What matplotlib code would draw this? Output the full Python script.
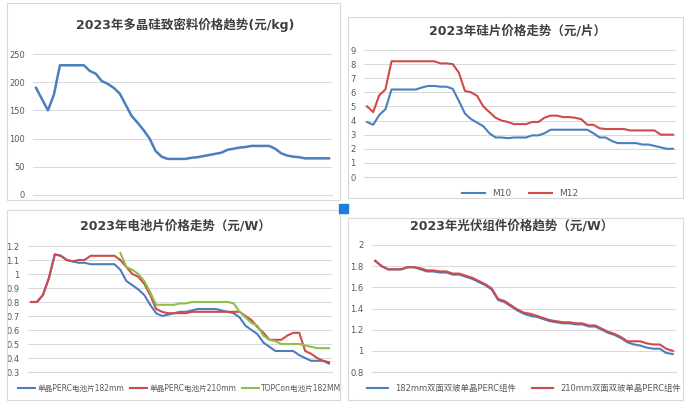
import numpy as np
import matplotlib.pyplot as plt
from matplotlib import font_manager
from matplotlib.patches import Rectangle

# 找一个能显示中文的无衬线字体
cjk = sorted(set(f.name for f in font_manager.fontManager.ttflist if 'CJK' in f.name))
sans = [n for n in cjk if 'Sans' in n]
cjk_name = 'Noto Sans CJK SC' if 'Noto Sans CJK SC' in sans else (sans[0] if sans else 'DejaVu Sans')
plt.rcParams['font.family'] = ['DejaVu Sans', cjk_name]

# ---- 数据 ----
poly_price = [190, 170, 150, 178, 230, 230, 230, 230, 230, 220, 215, 202, 197, 190, 180, 160, 140, 128, 115, 100,
              78, 68, 64, 64, 64, 64, 66, 67, 69, 71, 73, 75, 80, 82, 84, 85, 87, 87, 87, 87,
              82, 74, 70, 68, 67, 65, 65, 65, 65, 65]

wafer_m10 = [3.9, 3.7, 4.4, 4.8, 6.2, 6.2, 6.2, 6.2, 6.2, 6.35, 6.45, 6.45, 6.4, 6.4, 6.25,
             5.4, 4.5, 4.1, 3.85, 3.6, 3.1, 2.8, 2.8, 2.75, 2.8, 2.8, 2.8, 2.95, 2.95, 3.1,
             3.35, 3.35, 3.35, 3.35, 3.35, 3.35, 3.35, 3.1, 2.8, 2.8, 2.55, 2.4, 2.4, 2.4, 2.4,
             2.3, 2.3, 2.2, 2.1, 2.0, 2.0]
wafer_m12 = [5.0, 4.6, 5.8, 6.2, 8.2, 8.2, 8.2, 8.2, 8.2, 8.2, 8.2, 8.2, 8.05, 8.05, 8.0, 7.4,
             6.1, 6.0, 5.75, 5.0, 4.6, 4.2, 4.0, 3.9, 3.75, 3.75, 3.75, 3.9, 3.9, 4.2, 4.35, 4.35,
             4.25, 4.25, 4.2, 4.1, 3.7, 3.7, 3.45, 3.4, 3.4, 3.4, 3.4, 3.3, 3.3, 3.3, 3.3, 3.3,
             3.0, 3.0, 3.0]

cell_182 = [0.8, 0.8, 0.85, 0.97, 1.14, 1.13, 1.1, 1.09, 1.08, 1.08, 1.07, 1.07, 1.07, 1.07, 1.07,
            1.03, 0.95, 0.92, 0.89, 0.85, 0.78, 0.72, 0.70, 0.71, 0.72, 0.73, 0.73, 0.74, 0.75, 0.75,
            0.75, 0.75, 0.74, 0.73, 0.72, 0.69, 0.63, 0.60, 0.57, 0.51, 0.48, 0.45, 0.45, 0.45, 0.45,
            0.42, 0.40, 0.38, 0.38, 0.38, 0.36]
cell_210 = [0.8, 0.8, 0.85, 0.97, 1.14, 1.13, 1.1, 1.09, 1.1, 1.1, 1.13, 1.13, 1.13, 1.13, 1.13,
            1.10, 1.05, 1.0, 0.98, 0.93, 0.85, 0.75, 0.73, 0.72, 0.72, 0.72, 0.72, 0.73, 0.73, 0.73,
            0.73, 0.73, 0.73, 0.73, 0.73, 0.73, 0.70, 0.67, 0.62, 0.58, 0.53, 0.53, 0.53, 0.56, 0.58,
            0.58, 0.45, 0.43, 0.40, 0.38, 0.37]
topcon_start = 15
cell_topcon = [1.15, 1.05, 1.03, 1.0, 0.95, 0.87, 0.78, 0.78, 0.78, 0.78, 0.79, 0.79, 0.80, 0.80,
               0.80, 0.80, 0.80, 0.80, 0.80, 0.79, 0.73, 0.69, 0.65, 0.63, 0.56, 0.53, 0.52, 0.50,
               0.50, 0.50, 0.50, 0.49, 0.48, 0.47, 0.47, 0.47]

mod_182 = [1.85, 1.8, 1.77, 1.77, 1.77, 1.79, 1.79, 1.77, 1.75, 1.75, 1.74, 1.74, 1.72, 1.72, 1.70,
           1.68, 1.65, 1.62, 1.58, 1.48, 1.46, 1.42, 1.38, 1.35, 1.33, 1.32, 1.30, 1.28, 1.27, 1.26,
           1.26, 1.25, 1.25, 1.23, 1.23, 1.20, 1.17, 1.15, 1.12, 1.08, 1.06, 1.05, 1.03, 1.02, 1.02,
           0.98, 0.97]
mod_210 = [1.85, 1.8, 1.77, 1.77, 1.77, 1.79, 1.79, 1.78, 1.76, 1.76, 1.75, 1.75, 1.73, 1.73, 1.71,
           1.69, 1.66, 1.63, 1.59, 1.49, 1.47, 1.43, 1.39, 1.36, 1.35, 1.33, 1.31, 1.29, 1.28, 1.27,
           1.27, 1.26, 1.26, 1.24, 1.24, 1.21, 1.18, 1.16, 1.13, 1.09, 1.09, 1.09, 1.07, 1.06, 1.06,
           1.02, 1.0]

BLUE = '#4a7ebf'
RED = '#d04a4a'
GREEN = '#8dbf4a'
W, H = 688, 405

fig = plt.figure(figsize=(W / 100, H / 100), dpi=100)


def box(x0, y0, x1, y1):
    fig.patches.append(Rectangle((x0 / W, 1 - y1 / H), (x1 - x0) / W, (y1 - y0) / H,
                                 transform=fig.transFigure, fill=False, ec='#d9d9d9', lw=0.8))


def make_ax(x0, y0, x1, y1, ylim, yticks):
    ax = fig.add_axes([x0 / W, 1 - y1 / H, (x1 - x0) / W, (y1 - y0) / H])
    ax.set_ylim(*ylim)
    ax.set_yticks(yticks)
    ax.set_yticklabels(['%g' % v for v in yticks])
    ax.tick_params(axis='y', length=0, labelsize=6, labelcolor='#595959', pad=6)
    ax.set_xticks([])
    ax.grid(axis='y', color='#d9d9d9', lw=0.7)
    ax.set_axisbelow(True)
    for s in ax.spines.values():
        s.set_visible(False)
    ax.spines['bottom'].set_visible(True)
    ax.spines['bottom'].set_color('#d9d9d9')
    return ax


TITLE = dict(ha='center', va='center', fontsize=9, fontweight='bold', color='#404040')
LEG = dict(loc='center', bbox_to_anchor=(0.5, -0.13), frameon=False, labelcolor='#595959')

# 多晶硅
box(7, 3, 340, 200)
ax1 = make_ax(33, 54, 332, 195, (0, 250), [0, 50, 100, 150, 200, 250])
ax1.plot(range(len(poly_price)), poly_price, color=BLUE, lw=1.8)
ax1.set_xlim(-0.5, len(poly_price) - 0.5)
fig.text(185 / W, 1 - 25 / H, '2023年多晶硅致密料价格趋势(元/kg)', **TITLE)

# 硅片
box(348, 17, 683, 198)
ax2 = make_ax(364, 50, 676, 177, (0, 9), list(range(10)))
ax2.plot(range(len(wafer_m10)), wafer_m10, color=BLUE, lw=1.5, label='M10')
ax2.plot(range(len(wafer_m12)), wafer_m12, color=RED, lw=1.5, label='M12')
ax2.set_xlim(-0.5, len(wafer_m12) - 0.5)
fig.text(517 / W, 1 - 31 / H, '2023年硅片价格走势（元/片）', **TITLE)
ax2.legend(ncol=2, fontsize=6.5, handlelength=2.5, **LEG)

# 电池片
box(7, 210, 340, 400)
ax3 = make_ax(28, 246, 332, 372, (0.3, 1.2), [0.3, 0.4, 0.5, 0.6, 0.7, 0.8, 0.9, 1.0, 1.1, 1.2])
ax3.plot(range(len(cell_182)), cell_182, color=BLUE, lw=1.5, label='单晶PERC电池片182mm')
ax3.plot(range(len(cell_210)), cell_210, color=RED, lw=1.5, label='单晶PERC电池片210mm')
ax3.plot(range(topcon_start, topcon_start + len(cell_topcon)), cell_topcon, color=GREEN, lw=1.5,
         label='TOPCon电池片182MM')
ax3.set_xlim(-0.5, len(cell_182) - 0.5)
fig.text(175 / W, 1 - 226 / H, '2023年电池片价格走势（元/W）', **TITLE)
ax3.legend(ncol=3, fontsize=5.5, handlelength=2.2, columnspacing=0.8, handletextpad=0.3, **LEG)

# 组件
box(348, 218, 683, 400)
ax4 = make_ax(372, 245, 676, 372, (0.8, 2.0), [0.8, 1.0, 1.2, 1.4, 1.6, 1.8, 2.0])
ax4.plot(range(len(mod_182)), mod_182, color=BLUE, lw=1.5, label='182mm双面双玻单晶PERC组件')
ax4.plot(range(len(mod_210)), mod_210, color=RED, lw=1.5, label='210mm双面双玻单晶PERC组件')
ax4.set_xlim(-0.5, len(mod_182) - 0.5)
fig.text(512 / W, 1 - 226 / H, '2023年光伏组件价格趋势（元/W）', **TITLE)
ax4.legend(ncol=2, fontsize=6, handlelength=2.5, **LEG)

# 中间的小蓝方块
fig.patches.append(Rectangle((339 / W, 1 - 213 / H), 9 / W, 9 / H, transform=fig.transFigure,
                             color='#1e7be0'))

fig.savefig('out.png', dpi=100)
